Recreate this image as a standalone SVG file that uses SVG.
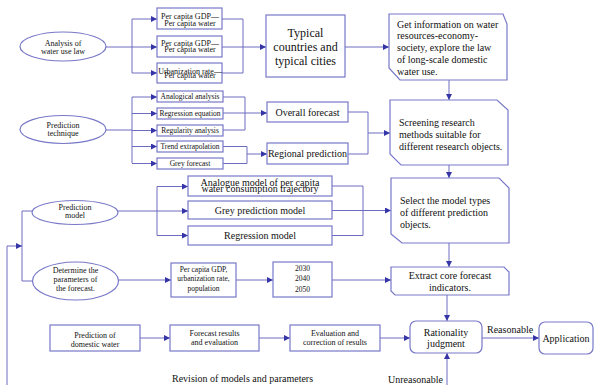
<svg xmlns="http://www.w3.org/2000/svg" width="594" height="385" viewBox="0 0 594 385">
<defs>
<marker id="ah" viewBox="0 0 6 6" refX="6" refY="3" markerWidth="6" markerHeight="6" markerUnits="userSpaceOnUse" orient="auto">
<path d="M0,0 L6,3 L0,6 z" fill="#3535a8"/>
</marker>
<style>
.ln{fill:none;stroke:#6c6cc0;stroke-width:1}
.ar{fill:none;stroke:#6c6cc0;stroke-width:1;marker-end:url(#ah)}
.bx{fill:#fff;stroke:#7878c8;stroke-width:1.2}
text{font-family:"Liberation Serif","Times New Roman",serif;fill:#111}
.s8{font-size:8px;text-anchor:middle}
.s75{font-size:7.5px;text-anchor:middle}
.s10{font-size:10px}
.c10{font-size:10px;text-anchor:middle}
.c12{font-size:12px;text-anchor:middle}
</style>
</defs>
<rect width="594" height="385" fill="#fff"/>

<g id="connectors">
<path class="ln" d="M106,47 H132 M132,19 V73"/>
<path class="ar" d="M132,19 H157"/>
<path class="ar" d="M132,47 H157"/>
<path class="ar" d="M132,73 H157"/>
<path class="ln" d="M222,19 H243 V73 H222"/>
<path class="ar" d="M222,47 H266"/>
<path class="ar" d="M345,47 H389"/>
<path class="ar" d="M449,80 V100"/>
<path class="ln" d="M106,130 H132 M132,97 V163"/>
<path class="ar" d="M132,97 H157"/>
<path class="ar" d="M132,113.5 H157"/>
<path class="ar" d="M132,130.5 H157"/>
<path class="ar" d="M132,146.5 H157"/>
<path class="ar" d="M132,163.5 H157"/>
<path class="ln" d="M223,97 H245 V130 H223"/>
<path class="ar" d="M223,113 H267"/>
<path class="ln" d="M223,146.5 H247 V163.5 H223"/>
<path class="ar" d="M247,154 H267"/>
<path class="ln" d="M348,112 H368 V154 H348"/>
<path class="ar" d="M368,133 H390"/>
<path class="ar" d="M449,165 V178"/>
<path class="ar" d="M118,211 H188"/>
<path class="ln" d="M157,186.5 V235.5"/>
<path class="ar" d="M157,186.5 H188"/>
<path class="ar" d="M157,235.5 H188"/>
<path class="ln" d="M332,186 H363 V235.5 H332"/>
<path class="ar" d="M332,210.5 H391"/>
<path class="ar" d="M449,243 V267"/>
<path class="ar" d="M118,280 H171"/>
<path class="ar" d="M236,280 H273"/>
<path class="ar" d="M332,280 H391"/>
<path class="ln" d="M33,211 H22 V281 H33"/>
<path class="ar" d="M7,385 V246 H22"/>
<path class="ar" d="M140,338 H170"/>
<path class="ar" d="M259,338 H290"/>
<path class="ar" d="M380,338 H410"/>
<path class="ar" d="M447,295 V321"/>
<path class="ar" d="M447,385 V353"/>
<path class="ar" d="M482,338 H539"/>
</g>

<g id="analysis">
<ellipse class="bx" cx="63" cy="46.5" rx="43" ry="14.5"/>
<text class="s8" x="63" y="45.7">Analysis of</text>
<text class="s8" x="63" y="53.8">water use law</text>
</g>
<g id="gdp1">
<rect class="bx" x="157" y="8" width="65" height="21"/>
<text class="s8" x="190" y="18.7">Per capita GDP—</text>
<text class="s8" x="190" y="25.7">Per capita water</text>
</g>
<g id="gdp2">
<rect class="bx" x="157" y="36" width="65" height="21"/>
<text class="s8" x="190" y="45.7">Per capita GDP—</text>
<text class="s8" x="190" y="52.2">Per capita water</text>
</g>
<g id="urban">
<rect class="bx" x="157" y="63" width="65" height="20"/>
<text class="s8" x="190" y="73.7">Urbanization rate—</text>
<text class="s8" x="190" y="77.7">Per capita water</text>
</g>
<g id="typical">
<rect class="bx" x="266" y="15" width="79" height="62"/>
<text class="c12" x="305.5" y="37">Typical</text>
<text class="c12" x="305.5" y="51">countries and</text>
<text class="c12" x="305.5" y="65">typical cities</text>
</g>
<g id="getinfo">
<polygon class="bx" points="389,14 503,14 507,24 507,80 400,80 389,68"/>
<text class="s10" x="397" y="27.5">Get information on water</text>
<text class="s10" x="397" y="39.2">resources-economy-</text>
<text class="s10" x="397" y="51">society, explore the law</text>
<text class="s10" x="397" y="62.7">of long-scale domestic</text>
<text class="s10" x="397" y="74.5">water use.</text>
</g>

<g id="technique">
<ellipse class="bx" cx="63" cy="129.5" rx="43" ry="14"/>
<text class="s8" x="63" y="127.8">Prediction</text>
<text class="s8" x="63" y="135.8">technique</text>
</g>
<g id="analogical">
<rect class="bx" x="157" y="91" width="66" height="11"/>
<text class="s75" x="190" y="99.2">Analogical analysis</text>
</g>
<g id="regeq">
<rect class="bx" x="157" y="108" width="66" height="11"/>
<text class="s75" x="190" y="116.2">Regression equation</text>
</g>
<g id="regularity">
<rect class="bx" x="157" y="125" width="66" height="11"/>
<text class="s75" x="190" y="133.2">Regularity analysis</text>
</g>
<g id="trend">
<rect class="bx" x="157" y="141" width="66" height="11"/>
<text class="s75" x="190" y="149.2">Trend extrapolation</text>
</g>
<g id="greyf">
<rect class="bx" x="157" y="158" width="66" height="11"/>
<text class="s75" x="190" y="166.2">Grey forecast</text>
</g>
<g id="overall">
<rect class="bx" x="267" y="102" width="81" height="20"/>
<text class="c10" x="307.5" y="115.5">Overall forecast</text>
</g>
<g id="regional">
<rect class="bx" x="267" y="143" width="81" height="21"/>
<text class="c10" x="307.5" y="157">Regional prediction</text>
</g>
<g id="screening">
<polygon class="bx" points="390,100 497,100 508,110 508,165 401,165 390,154"/>
<text class="s10" x="399" y="125.5">Screening research</text>
<text class="s10" x="399" y="137.7">methods suitable for</text>
<text class="s10" x="399" y="150">different research objects.</text>
</g>

<g id="model">
<ellipse class="bx" cx="75" cy="212.5" rx="43" ry="12"/>
<text class="s8" x="75" y="209.8">Prediction</text>
<text class="s8" x="75" y="217.8">model</text>
</g>
<g id="analogue">
<rect class="bx" x="188" y="176" width="144" height="20"/>
<text class="c10" x="260" y="186">Analogue model of per capita</text>
<text class="c10" x="260" y="191.8">water consumption trajectory</text>
</g>
<g id="greymodel">
<rect class="bx" x="188" y="201" width="144" height="18"/>
<text class="c10" x="260" y="213.5">Grey prediction model</text>
</g>
<g id="regmodel">
<rect class="bx" x="188" y="226" width="144" height="19"/>
<text class="c10" x="260" y="239">Regression model</text>
</g>
<g id="select">
<polygon class="bx" points="391,178 499,178 509,188 509,243 402,243 391,234"/>
<text class="s10" x="400" y="203.5">Select the model types</text>
<text class="s10" x="400" y="215.8">of different prediction</text>
<text class="s10" x="400" y="228">objects.</text>
</g>

<g id="determine">
<ellipse class="bx" cx="75.5" cy="281" rx="43" ry="19"/>
<text class="s8" x="75.5" y="272.8">Determine the</text>
<text class="s8" x="75.5" y="281.8">parameters of</text>
<text class="s8" x="75.5" y="290.8">the forecast.</text>
</g>
<g id="params">
<rect class="bx" x="171" y="263" width="65" height="34"/>
<text class="s75" x="203.5" y="271.6">Per capita GDP,</text>
<text class="s75" x="203.5" y="281.3">urbanization rate,</text>
<text class="s75" x="203.5" y="290.6">population</text>
</g>
<g id="years">
<rect class="bx" x="273" y="262" width="59" height="35"/>
<text class="s75" x="302.5" y="270.6">2030</text>
<text class="s75" x="302.5" y="280.6">2040</text>
<text class="s75" x="302.5" y="291.6">2050</text>
</g>
<g id="extract">
<polygon class="bx" points="391,267 504,267 509,272 509,295 395,295 391,291"/>
<text class="c10" x="450" y="278.5">Extract core forecast</text>
<text class="c10" x="450" y="290.5">indicators.</text>
</g>

<g id="domestic">
<rect class="bx" x="50" y="325" width="90" height="26"/>
<text class="s8" x="95" y="337.8">Prediction of</text>
<text class="s8" x="95" y="346.8">domestic water</text>
</g>
<g id="results">
<rect class="bx" x="170" y="325" width="89" height="26"/>
<text class="s8" x="214.5" y="335.8">Forecast results</text>
<text class="s8" x="214.5" y="344.8">and evaluation</text>
</g>
<g id="evaluation">
<rect class="bx" x="290" y="325" width="90" height="26"/>
<text class="s8" x="335" y="335.8">Evaluation and</text>
<text class="s8" x="335" y="344.8">correction of results</text>
</g>
<g id="rationality">
<rect class="bx" x="410" y="321" width="72" height="32" rx="6"/>
<text class="c10" x="446" y="335.5">Rationality</text>
<text class="c10" x="446" y="346.8">judgment</text>
</g>
<g id="application">
<rect class="bx" x="539" y="322" width="54" height="32" rx="6"/>
<text class="c10" x="566" y="341.8">Application</text>
</g>
<g id="labels">
<text class="s10" x="487" y="332.5">Reasonable</text>
<text class="s10" x="388" y="382.8">Unreasonable</text>
<text class="s10" x="172" y="381.5">Revision of models and parameters</text>
</g>
</svg>
